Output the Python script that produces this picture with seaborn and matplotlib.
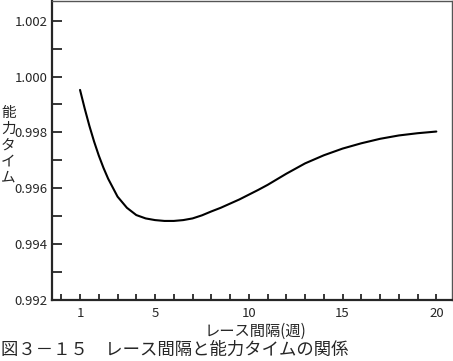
import matplotlib
matplotlib.use('Agg')
import matplotlib.pyplot as plt
from matplotlib.ticker import MultipleLocator, FixedLocator, FuncFormatter
import pandas as pd
import seaborn as sns

# values
interval_weeks = [1, 1.25, 1.5, 1.75, 2, 2.25, 2.5, 3, 3.5, 4, 4.5, 5, 5.5, 6,
                  6.5, 7, 7.5, 8, 8.5, 9, 9.5, 10, 10.5, 11, 11.5, 12, 13, 14,
                  15, 16, 17, 18, 19, 20]
ability_time = [0.99952, 0.99885, 0.99823, 0.99767, 0.99717, 0.99673, 0.99634,
                0.99570, 0.99530, 0.99504, 0.99492, 0.99486, 0.99483, 0.99483,
                0.99486, 0.99492, 0.99503, 0.99517, 0.99530, 0.99545, 0.99560,
                0.99577, 0.99594, 0.99612, 0.99632, 0.99652, 0.99689, 0.99718,
                0.99742, 0.99761, 0.99777, 0.99789, 0.99797, 0.99803]
x_labels = [1, 5, 10, 15, 20]
y_labels = [0.992, 0.994, 0.996, 0.998, 1.000, 1.002]

sns.set_style('ticks')
plt.rcParams['font.family'] = ['Noto Sans CJK JP', 'DejaVu Sans']

df = pd.DataFrame({'interval': interval_weeks, 'time': ability_time})

fig = plt.figure(figsize=(4.53, 3.61), dpi=100)
ax = fig.add_axes([0.115, 0.169, 0.883, 0.828])
sns.lineplot(data=df, x='interval', y='time', color='black', linewidth=1.5, ax=ax)

ax.set_xlim(-0.49, 20.84)
ax.set_ylim(0.992, 1.0027)

ax.xaxis.set_major_locator(FixedLocator(x_labels))
ax.xaxis.set_minor_locator(MultipleLocator(1))
ax.yaxis.set_major_locator(FixedLocator(y_labels))
ax.yaxis.set_minor_locator(MultipleLocator(0.001))
ax.yaxis.set_major_formatter(FuncFormatter(lambda v, p: f'{v:.3f}'))
ax.xaxis.set_major_formatter(FuncFormatter(lambda v, p: f'{v:.0f}'))

ax.tick_params(axis='x', which='both', direction='in', length=4, width=1.3,
               labelsize=9.5, pad=5)
ax.tick_params(axis='y', which='both', direction='in', length=7, width=1.3,
               labelsize=9.5, pad=3)
for side in ['left', 'bottom']:
    ax.spines[side].set_linewidth(1.6)
for side in ['top', 'right']:
    ax.spines[side].set_linewidth(1.0)
    ax.spines[side].set_color('#555555')

ax.set_xlabel('')
ax.set_ylabel('')
fig.text(0.563, 0.083, 'レース間隔(週)', ha='center', va='center', fontsize=11)
fig.text(0.002, 0.598, '能\n力\nタ\nイ\nム', ha='left', va='center', fontsize=10.5,
         linespacing=1.2)
fig.text(0.002, 0.03, '図３－１５　レース間隔と能力タイムの関係', ha='left', va='center',
         fontsize=12.5)

fig.savefig('out.png', dpi=100)
